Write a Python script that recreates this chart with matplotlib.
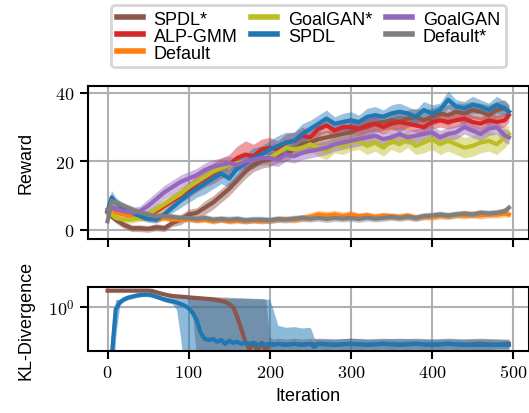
import matplotlib
matplotlib.use("Agg")
import matplotlib.pyplot as plt
import numpy as np
from matplotlib.lines import Line2D
from matplotlib.ticker import NullLocator

plt.rcParams["font.family"] = ["Liberation Sans", "DejaVu Sans"]
plt.rcParams["mathtext.fontset"] = "cm"
plt.rcParams["font.size"] = 13

# reward curves (mean, std)
it = [0, 5] + list(range(10, 491, 10)) + [495]

spdl_star = [5, 4, 3, 1.5, 0.5, 0.5, 0.3, 0.8, 0.5, 2, 3, 4.5, 5, 6.5, 8, 10, 12, 14.5, 17, 19, 20,
             20.5, 21.5, 22, 23.5, 25, 25.5, 26.5, 27, 27.5, 28, 28.5, 29.5, 30, 31, 31.5, 32, 31.5,
             32.5, 33, 32, 33, 34, 33.5, 34.5, 34, 35, 34.5, 33.5, 35, 35.5, 34.5]
spdl_star_sd = [1, 1, 1, 1, 1, 1, 1, 1, 1, 1, 1.5, 1.5, 1.5, 2, 2, 2, 2, 2, 2, 2, 2,
                2, 2, 2, 2, 2, 2, 2, 2, 2, 2.5, 2.5, 2.5, 2.5, 2.5, 2.5, 2.5, 3, 2.5,
                2.5, 3, 2.5, 2.5, 3, 2.5, 3, 2.5, 2.5, 3, 2.5, 2.5, 2]
alp_gmm = [5.5, 6.5, 6, 5.5, 5, 4.5, 4.5, 5.5, 7, 8.5, 10, 11.5, 13.5, 15, 16.5, 18, 19, 21, 22, 21.5,
           23.5, 24, 23.5, 25.5, 26, 27.5, 27, 29.5, 30.5, 29, 30, 30, 29.5, 30.5, 31, 30, 31, 31.5,
           31, 30.5, 30, 31.5, 32, 31.5, 32, 32.5, 31.5, 31, 32, 31.5, 32, 33.5]
alp_gmm_sd = [1, 1, 1, 1, 1, 1, 1, 1.5, 1.5, 2, 2, 2, 2.5, 2.5, 3, 3, 3, 3.5, 4, 3.5,
              3, 3, 2.5, 2.5, 2.5, 2.5, 2, 2, 2, 2, 2, 2, 2, 2, 2, 2, 2, 2,
              2, 2, 2, 2, 2, 2, 2, 2, 2, 2, 2, 2, 2, 2]
default = [5, 5.5, 5, 4.5, 4, 3.5, 3.5, 3, 3.5, 3, 3, 3.2, 2.8, 3, 2.5, 3, 2.5, 2.7, 2.5, 2.8,
           2.5, 2.8, 3, 3.2, 3, 3.5, 3.8, 4.5, 4.2, 4.5, 4, 4.5, 4, 4.3, 3.8, 4.2, 4, 3.8,
           4.2, 3.5, 4, 3.8, 4.2, 4, 4.5, 4.2, 4.5, 4.2, 4.5, 4.5, 4.8, 4.5]
default_sd = [1, 1, 1, 1, 1, 0.8, 0.8, 0.8, 0.8, 0.8, 0.8, 0.8, 0.8, 0.8, 0.8, 0.8, 0.8, 0.8, 0.8, 0.8,
              0.8, 0.8, 0.8, 0.8, 1, 1, 1.2, 1.2, 1.2, 1.2, 1.2, 1.2, 1, 1, 1, 1, 1, 1,
              1, 1, 1, 1, 1, 1, 1, 1, 1, 1, 1, 1, 1, 1]
goalgan_star = [5.5, 4.5, 3.5, 3, 3, 3.5, 4.5, 6, 7.5, 9, 10.5, 12.5, 14, 15.5, 17, 18, 19, 19.5, 20, 20.5,
                21.5, 21, 22.5, 24, 23.5, 24, 25, 24, 23, 25, 24.5, 25.5, 26, 24.5, 25.5, 24, 26, 25,
                26.5, 24.5, 25.5, 26.5, 25, 26, 25, 24, 24.5, 25.5, 26, 25, 27, 28]
goalgan_star_sd = [1, 1, 1, 1, 1, 1, 1.5, 1.5, 1.5, 1.5, 1.5, 1.5, 1.5, 1.5, 1.5, 1.5, 1.5, 1.5, 1.5, 1.5,
                   1.5, 1.5, 1.5, 1.5, 1.5, 2, 2, 2.5, 2.5, 2.5, 2.5, 2.5, 2.5, 2.5, 2.5, 2.5, 2.5, 2.5,
                   2.5, 2.5, 3, 3, 3, 3, 3, 3, 3, 3, 3, 3, 3, 2.5]
spdl = [5.5, 9.5, 8, 6.5, 5, 4, 3.2, 3, 4.5, 6.5, 8.5, 10.5, 12, 13.5, 15, 16.5, 15, 18, 19.5, 21,
        22, 23.5, 24.5, 25.5, 26, 28, 29.5, 31, 32.5, 31, 31.5, 32, 31.5, 33, 33.5, 33, 34, 34.5,
        34, 33, 35, 34, 35, 38, 36, 35.5, 36.5, 36, 35, 36.5, 35.5, 34.5]
spdl_sd = [1.5, 2, 1.5, 1.2, 1, 1, 1, 1, 1.2, 1.5, 2, 2.5, 2.5, 3, 3, 3, 2.5, 2.5, 2.5, 3,
           2.5, 2.5, 3, 3, 2.5, 3, 2.5, 2.5, 2.5, 2, 2.5, 2.5, 2, 2.5, 2.5, 2, 2.5, 2.5,
           2, 2, 2.5, 2.5, 2, 2.5, 2, 2, 2.5, 2, 2, 2.5, 2, 2]
goalgan = [6, 6.5, 6, 5.5, 5, 5.5, 7, 9, 11, 12.5, 14, 15, 16, 17.5, 18.5, 19, 19.5, 19, 20, 20.5,
           21, 21, 20.5, 22, 21.5, 22.5, 23, 23.5, 24, 25, 25.5, 26, 26.5, 27, 27.5, 26.5, 27, 28,
           27, 27.5, 28, 28.5, 27, 28, 28.5, 30, 29, 28, 29.5, 30, 27.5, 27]
goalgan_sd = [1, 1, 1, 1, 1.5, 1.5, 2, 2, 2, 2, 2, 2, 2, 2, 2, 2, 2, 2, 2, 2,
              2, 2, 2, 2, 2, 2, 2, 2, 2, 2, 2, 2, 2, 2, 2, 2, 2, 2,
              2, 2, 2, 2, 2, 2, 2, 2, 2, 2, 2, 2, 2, 2]
default_star = [2.5, 8.5, 8, 7, 6, 5, 4.5, 4, 4, 3.8, 3.5, 3.5, 3.2, 3.5, 3, 3.2, 3, 3.2, 2.8, 3,
                3, 2.8, 3.2, 3, 3.3, 3.5, 3.3, 3.5, 3.2, 3.5, 3.3, 3.5, 3.2, 3.6, 3.3, 3.5, 3.8, 3.5,
                3.8, 3.5, 4, 4.2, 4.5, 4.2, 4.5, 4.8, 4.5, 5, 4.8, 5, 5.5, 6.5]
default_star_sd = [1, 1, 1, 1, 1, 1, 1, 1, 1, 1, 1, 1, 1, 1, 1, 1, 1, 1, 1, 1,
                   1, 1, 1, 1, 1, 1, 1, 1, 1, 1, 1, 1, 1, 1, 1, 1, 1, 1,
                   1, 1, 1, 1, 1, 1, 1, 1, 1, 1, 1, 1, 1, 1]

# KL divergence (mean, lower, upper)
kl_it = [0, 5, 10, 15, 20, 25, 30, 35, 40, 45, 50, 55, 60, 65, 70, 75, 80, 85, 90, 95, 100,
         105, 110, 115, 120, 125, 130, 135, 140, 145, 150, 155, 160, 165, 170, 175, 180, 185,
         190, 195, 200, 205, 210, 220, 230, 240, 250, 255, 260, 280, 300, 320, 340, 360, 380,
         400, 420, 440, 460, 480, 495]
kl_spdl = [0.1, 0.3, 0.95, 1.12, 1.2, 1.25, 1.28, 1.31, 1.33, 1.34, 1.34, 1.32, 1.28, 1.24, 1.2, 1.17,
           1.15, 1.12, 1.08, 1.04, 0.98, 0.88, 0.74, 0.55, 0.48, 0.47, 0.48, 0.45, 0.47, 0.43, 0.46,
           0.44, 0.45, 0.43, 0.44, 0.43, 0.44, 0.42, 0.43, 0.42, 0.43, 0.42, 0.43, 0.42, 0.43, 0.42,
           0.43, 0.4, 0.43, 0.42, 0.43, 0.42, 0.43, 0.42, 0.43, 0.42, 0.43, 0.42, 0.42, 0.42, 0.42]
kl_spdl_lo = [0.05, 0.1, 0.5, 1.05, 1.14, 1.19, 1.22, 1.25, 1.27, 1.28, 1.28, 1.26, 1.22, 1.18, 1.14, 1.11,
              1.08, 0.95, 0.5, 0.2, 0.2, 0.2, 0.2, 0.2, 0.2, 0.2, 0.2, 0.2, 0.2, 0.2, 0.3,
              0.37, 0.38, 0.37, 0.38, 0.37, 0.38, 0.37, 0.38, 0.37, 0.38, 0.37, 0.38, 0.37, 0.38, 0.37,
              0.38, 0.36, 0.38, 0.37, 0.38, 0.37, 0.38, 0.37, 0.38, 0.37, 0.38, 0.37, 0.37, 0.38, 0.38]
kl_spdl_hi = [0.2, 0.6, 1.2, 1.2, 1.27, 1.32, 1.35, 1.38, 1.4, 1.41, 1.41, 1.39, 1.35, 1.31, 1.28, 1.27,
              1.27, 1.27, 1.27, 1.27, 1.27, 1.26, 1.26, 1.25, 1.25, 1.25, 1.24, 1.24, 1.24, 1.24, 1.23,
              1.23, 1.23, 1.23, 1.23, 1.22, 1.22, 1.22, 1.22, 1.21, 1.2, 0.9, 0.66, 0.63, 0.64, 0.62,
              0.63, 0.49, 0.48, 0.48, 0.49, 0.48, 0.48, 0.49, 0.48, 0.48, 0.48, 0.48, 0.48, 0.48, 0.47]
kl_spdl_star = [1.47, 1.47, 1.47, 1.47, 1.47, 1.47, 1.47, 1.47, 1.47, 1.47, 1.47, 1.46, 1.42, 1.38, 1.35, 1.32,
                1.3, 1.29, 1.28, 1.27, 1.26, 1.25, 1.24, 1.23, 1.22, 1.21, 1.2, 1.18, 1.16, 1.13, 1.08,
                1.0, 0.8, 0.6, 0.45, 0.38, 0.44, 0.37, 0.44, 0.37, 0.43, 0.42, 0.43, 0.42, 0.43, 0.42,
                0.43, 0.42, 0.43, 0.42, 0.43, 0.42, 0.43, 0.42, 0.43, 0.42, 0.43, 0.42, 0.43, 0.42, 0.43]
kl_spdl_star_lo = [1.45, 1.45, 1.45, 1.45, 1.45, 1.45, 1.45, 1.45, 1.45, 1.45, 1.44, 1.42, 1.38, 1.34, 1.31, 1.28,
                   1.26, 1.25, 1.24, 1.23, 1.2, 0.8, 0.3, 0.3, 0.3, 0.3, 0.3, 0.3, 0.3, 0.3, 0.3,
                   0.3, 0.3, 0.3, 0.3, 0.3, 0.3, 0.3, 0.3, 0.3, 0.37, 0.38, 0.37, 0.38, 0.37, 0.38,
                   0.37, 0.38, 0.37, 0.38, 0.37, 0.38, 0.37, 0.38, 0.37, 0.38, 0.37, 0.38, 0.37, 0.38, 0.38]
kl_spdl_star_hi = [1.5, 1.5, 1.5, 1.5, 1.5, 1.5, 1.5, 1.5, 1.5, 1.5, 1.5, 1.49, 1.46, 1.42, 1.39, 1.36,
                   1.34, 1.33, 1.32, 1.31, 1.3, 1.3, 1.3, 1.29, 1.29, 1.29, 1.28, 1.28, 1.27, 1.27, 1.26,
                   1.26, 1.25, 1.25, 1.24, 1.24, 1.23, 1.23, 1.22, 1.2, 0.5, 0.48, 0.49, 0.48, 0.49, 0.48,
                   0.49, 0.48, 0.49, 0.48, 0.49, 0.48, 0.49, 0.48, 0.49, 0.48, 0.49, 0.48, 0.49, 0.48, 0.48]

C = {"brown": "#8c564b", "red": "#d62728", "orange": "#ff7f0e", "olive": "#bcbd22",
     "blue": "#1f77b4", "purple": "#9467bd", "gray": "#7f7f7f"}

series = [("SPDL*", spdl_star, spdl_star_sd, C["brown"]),
          ("ALP-GMM", alp_gmm, alp_gmm_sd, C["red"]),
          ("Default", default, default_sd, C["orange"]),
          ("GoalGAN*", goalgan_star, goalgan_star_sd, C["olive"]),
          ("SPDL", spdl, spdl_sd, C["blue"]),
          ("GoalGAN", goalgan, goalgan_sd, C["purple"]),
          ("Default*", default_star, default_star_sd, C["gray"])]

fig = plt.figure(figsize=(5.29, 4.14), dpi=100)
ax1 = fig.add_axes([87.5 / 529, 174.5 / 414, 441.5 / 529, 152.5 / 414])
ax2 = fig.add_axes([87.5 / 529, 62 / 414, 441.5 / 529, 64 / 414])

x = np.array(it)
handles = []
for name, m, s, c in series:
    m = np.array(m)
    s = np.array(s)
    assert len(m) == len(x) and len(s) == len(x), name
    ax1.fill_between(x, m - s, m + s, color=c, alpha=0.45, lw=0)
    ax1.plot(x, m, color=c, lw=3)
    handles.append(Line2D([], [], color=c, lw=4))

kx = np.array(kl_it)
for m, lo, hi, c in [(kl_spdl_star, kl_spdl_star_lo, kl_spdl_star_hi, C["brown"]),
                     (kl_spdl, kl_spdl_lo, kl_spdl_hi, C["blue"])]:
    assert len(m) == len(kx) and len(lo) == len(kx) and len(hi) == len(kx)
    ax2.fill_between(kx, lo, hi, color=c, alpha=0.5, lw=0)
    ax2.plot(kx, m, color=c, lw=3)

for ax in (ax1, ax2):
    ax.set_xlim(-24.75, 519.75)
    ax.set_xticks([0, 100, 200, 300, 400, 500])
    ax.grid(True, color="#b0b0b0", lw=1.5)
    ax.set_axisbelow(True)
    for sp in ax.spines.values():
        sp.set_linewidth(1.5)
    ax.tick_params(direction="out", length=6, width=1.5, labelsize=13)

ax1.set_ylim(-2.5, 42)
ax1.set_yticks([0, 20, 40])
ax1.set_yticklabels(["$0$", "$20$", "$40$"])
ax1.set_xticklabels([])
ax1.set_ylabel("Reward")

ax2.set_yscale("log")
ax2.set_ylim(0.364, 1.6)
ax2.set_yticks([1])
ax2.set_yticklabels(["$10^{0}$"])
ax2.yaxis.set_minor_locator(NullLocator())
ax2.set_xticklabels(["$%d$" % v for v in [0, 100, 200, 300, 400, 500]])
ax2.set_ylabel("KL-Divergence")
ax2.set_xlabel("Iteration")

ax1.yaxis.set_label_coords(-0.12, 0.5)
ax2.yaxis.set_label_coords(-0.12, 0.5)

leg = fig.legend(handles, [s[0] for s in series], ncol=3, loc="upper center",
                 bbox_to_anchor=(0.583, 1.0), fontsize=13, handlelength=1.45,
                 labelspacing=0.0, columnspacing=0.75, handletextpad=0.6,
                 borderpad=0.3, borderaxespad=0.35, fancybox=True, edgecolor="#cccccc")
leg.get_frame().set_linewidth(2)

fig.savefig("out.png", dpi=100)
